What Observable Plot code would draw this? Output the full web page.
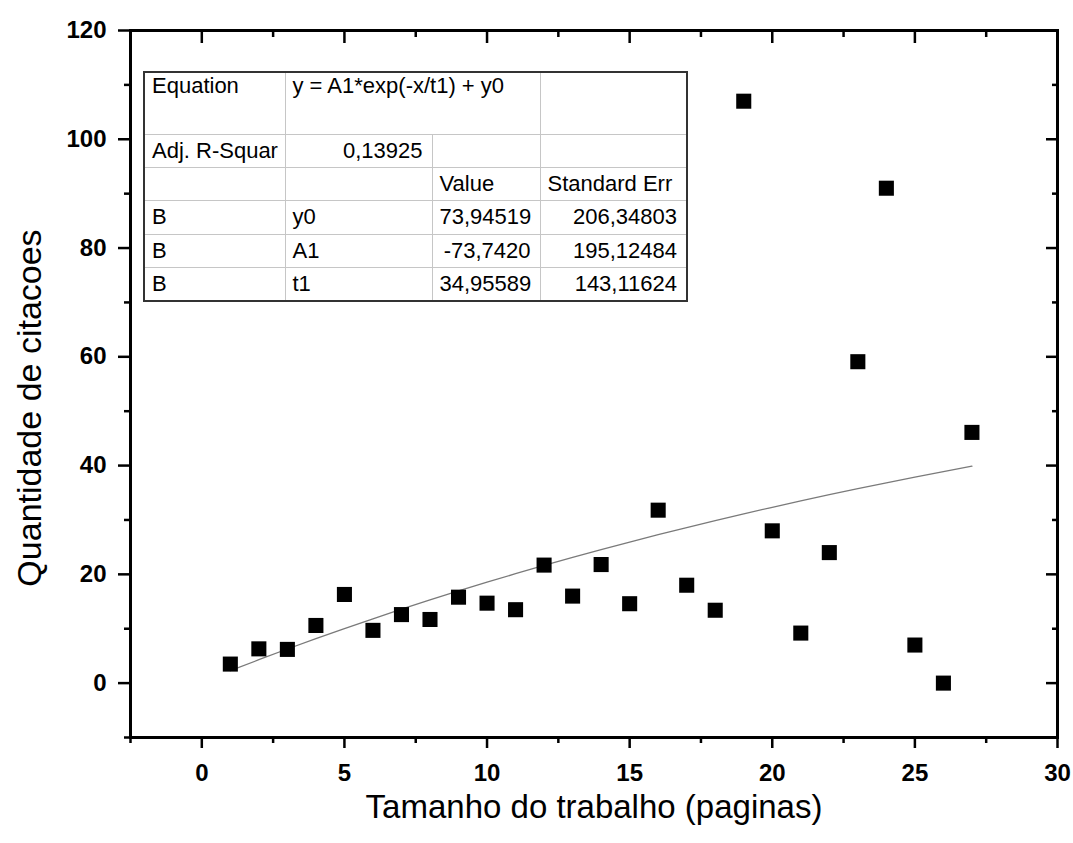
<!DOCTYPE html>
<html>
<head>
<meta charset="utf-8">
<script src="https://cdn.jsdelivr.net/npm/d3@7"></script>
<script src="https://cdn.jsdelivr.net/npm/@observablehq/plot@0.6"></script>
<style>
  body { margin: 0; background: #fff; }
  #wrap { position: relative; width: 1073px; height: 843px; overflow: hidden;
          font-family: "Liberation Sans", Arial, sans-serif; background: #fff; }
  #fitTable { position: absolute; left: 143px; top: 71px; border-collapse: collapse;
              table-layout: fixed; width: 543px; font-size: 22px; color: #000; background: #fff;
              border: 2px solid #333; }
  #fitTable td { border: 1.5px solid #c6c6c6; padding: 0 9px 0 7px; white-space: nowrap;
                 overflow: hidden; line-height: 24px; vertical-align: middle; }
  #fitTable td.top { vertical-align: top; padding-top: 1px; }
  #fitTable td.r { text-align: right; }
</style>
</head>
<body>
<div id="wrap"></div>
<script>
// ---- data ----
const pages = [1,2,3,4,5,6,7,8,9,10,11,12,13,14,15,16,17,18,19,20,21,22,23,24,25,26,27];
const citations = [3.5,6.3,6.2,10.6,16.3,9.7,12.6,11.7,15.8,14.7,13.5,21.7,16.0,21.8,14.6,31.8,18.0,13.4,107.0,28.0,9.2,24.0,59.1,91.0,7.0,0.0,46.1];
// fitted curve (ExpDec1) values
const fitX = [1,2,3,4,5,6,7,8,9,10,11,12,13,14,15,16,17,18,19,20,21,22,23,24,25,26,27];
const fitY = [2.28,4.30,6.27,8.18,10.03,11.83,13.59,15.29,16.94,18.55,20.11,21.63,23.11,24.54,25.93,27.29,28.60,29.88,31.12,32.33,33.51,34.65,35.75,36.83,37.88,38.90,39.88];

const xMajor = [0,5,10,15,20,25,30];
const xMinor = [-2.5,2.5,7.5,12.5,17.5,22.5,27.5];
const yMajor = [0,20,40,60,80,100,120];
const yMinor = [-10,10,30,50,70,90,110];

const xTitle = "Tamanho do trabalho (paginas)";
const yTitle = "Quantidade de citacoes";

// fit-result table
const tableRow1 = ["Equation", "y = A1*exp(-x/t1) + y0", ""];
const tableRow2 = ["Adj. R-Squar", "0,13925", "", ""];
const tableHeader = ["", "", "Value", "Standard Err"];
const tableGroup = ["B", "B", "B"];
const tableParam = ["y0", "A1", "t1"];
const tableValue = ["73,94519", "-73,7420", "34,95589"];
const tableErr = ["206,34803", "195,12484", "143,11624"];

// ---- build ----
const points = pages.map((p, i) => ({x: p, y: citations[i]}));
const fit = fitX.map((p, i) => ({x: p, y: fitY[i]}));
const blank = () => "";
const font = "'Liberation Sans', Arial, sans-serif";

const chart = Plot.plot({
  width: 1073,
  height: 843,
  marginLeft: 130,
  marginRight: 16,
  marginTop: 30,
  marginBottom: 106,
  x: {domain: [-2.5, 30]},
  y: {domain: [-10, 120]},
  style: {fontFamily: font, background: "white", color: "black"},
  marks: [
    Plot.axisX({anchor: "bottom", ticks: xMajor, tickSize: 11, tickPadding: 15, tickFormat: d => String(d),
                fontSize: 24, fontWeight: "bold", strokeWidth: 2.5, label: null}),
    Plot.axisX({anchor: "bottom", ticks: xMinor, tickSize: 6, tickFormat: blank, strokeWidth: 2.5, label: null}),
    Plot.axisX({anchor: "top", ticks: xMajor, tickSize: -12, tickFormat: blank, strokeWidth: 2.5, label: null}),
    Plot.axisX({anchor: "top", ticks: xMinor, tickSize: -6, tickFormat: blank, strokeWidth: 2.5, label: null}),
    Plot.axisY({anchor: "left", ticks: yMajor, tickSize: 12, tickPadding: 12, tickFormat: d => String(d),
                fontSize: 24, fontWeight: "bold", strokeWidth: 2.5, label: null}),
    Plot.axisY({anchor: "left", ticks: yMinor, tickSize: 6, tickFormat: blank, strokeWidth: 2.5, label: null}),
    Plot.axisY({anchor: "right", ticks: yMajor, tickSize: -12, tickFormat: blank, strokeWidth: 2.5, label: null}),
    Plot.axisY({anchor: "right", ticks: yMinor, tickSize: -6, tickFormat: blank, strokeWidth: 2.5, label: null}),
    Plot.frame({stroke: "black", strokeWidth: 3}),
    Plot.line(fit, {x: "x", y: "y", stroke: "#7a7a7a", strokeWidth: 1.3}),
    Plot.dot(points, {x: "x", y: "y", symbol: "square", r: 8.5, fill: "black", stroke: "none"}),
    Plot.text([xTitle], {text: d => d, frameAnchor: "bottom", textAnchor: "middle", dy: 80, fontSize: 33}),
    Plot.text([yTitle], {text: d => d, frameAnchor: "left", textAnchor: "middle", rotate: -90, dx: -100, dy: 24, fontSize: 34})
  ]
});

const wrap = document.getElementById("wrap");
wrap.appendChild(chart);

// fit table overlay
const table = document.createElement("table");
table.id = "fitTable";
const colWidths = [141, 147, 108, 147];
const cg = document.createElement("colgroup");
colWidths.forEach(w => { const c = document.createElement("col"); c.style.width = w + "px"; cg.appendChild(c); });
table.appendChild(cg);
function addRow(cells, height) {
  const tr = document.createElement("tr");
  tr.style.height = height + "px";
  cells.forEach(c => {
    const td = document.createElement("td");
    td.textContent = c.text;
    if (c.cls) td.className = c.cls;
    if (c.span) td.colSpan = c.span;
    tr.appendChild(td);
  });
  table.appendChild(tr);
}
addRow([{text: tableRow1[0], cls: "top"}, {text: tableRow1[1], cls: "top", span: 2}, {text: tableRow1[2], cls: "top"}], 62);
addRow([{text: tableRow2[0]}, {text: tableRow2[1], cls: "r"}, {text: tableRow2[2]}, {text: tableRow2[3]}], 33);
addRow(tableHeader.map(t => ({text: t})), 33);
const rowHeights = [34, 33, 34];
tableGroup.forEach((g, i) => {
  addRow([{text: g}, {text: tableParam[i]}, {text: tableValue[i], cls: "r"}, {text: tableErr[i], cls: "r"}], rowHeights[i]);
});
wrap.appendChild(table);
</script>
</body>
</html>
